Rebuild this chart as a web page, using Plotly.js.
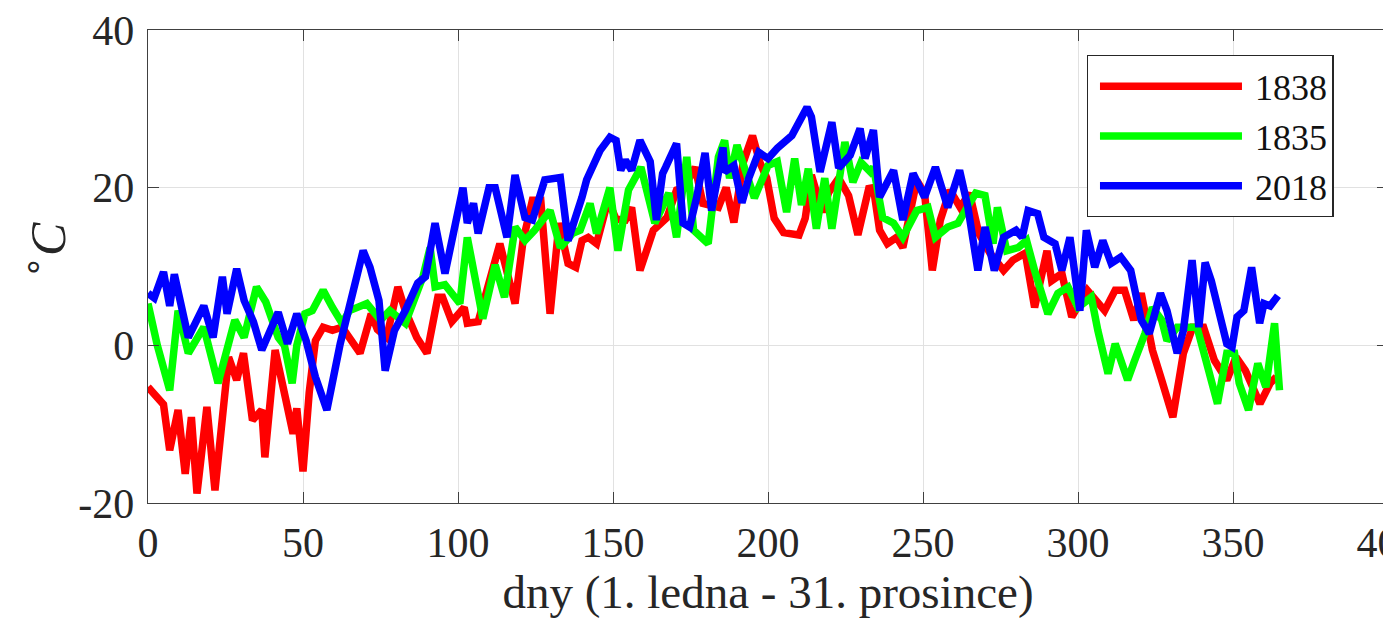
<!DOCTYPE html>
<html><head><meta charset="utf-8">
<script src="https://cdn.plot.ly/plotly-3.0.1.min.js"></script>
<style>html,body{margin:0;padding:0;overflow:hidden;background:#fff}#chart{width:1400px;height:619px}</style>
</head><body><div id="chart"></div><script>
const seriesNames = ['1838', '1835', '2018'];
const seriesColors = ['#ff0000', '#00ff00', '#0000ff'];

const days1838 = [0,3,5,7,9.7,12,14,15.8,19,21.6,24,26,28.6,30.8,33.7,36.7,37.7,41,44.3,46.8,48,50,52,54,56.5,59.5,62.6,65,68.4,72,74,77,80.6,83,86.7,90,93.5,95,98,102,103,106.5,110,113.5,116,118.4,121,124,126.7,129.7,132.6,135.5,138,140,142,144.7,148.4,151,154,156,158.7,163,167.4,170.5,173,176.5,179,184,186.5,189,192,195,197.4,199.6,202,205,210,212,214,217.5,219.6,222.8,226,229,232.5,234,236,238.5,241.5,243.5,248,250.5,253,255.6,258.7,262,265,268,271.6,276,279,283,286,290,291.5,294.8,298,303,308.6,312,315,318,320.4,324,327,330.6,334,337,340.5,344,348,351,354,358.7,362,364];
const temps1838 = [-5.3,-6.6,-7.5,-13.3,-8.2,-16.3,-9.1,-18.8,-7.8,-18.4,-8,-1.5,-4.4,-1,-9.5,-8.2,-14.2,-0.6,-6.6,-11.2,-8,-16,-6,0.6,2.3,1.9,2.3,1,-1,4,2,1,7.4,4.4,1,-1,6.1,6.1,3,4.8,2.8,3,8,12.9,9,5.3,13.3,18.4,18.4,4,15.5,10.4,9.9,13.3,13.7,12.9,18.4,16,15.9,17.5,9.5,14.6,16.2,19.7,20,22.6,18,17.5,20,15.6,23.2,26.6,23.2,21.2,16.1,14.3,14,16.1,21.6,16.9,19.4,21.2,19,14,19.9,20,14.6,12.9,13.7,12.4,20.9,19.3,9.5,15.9,19.7,17.5,19.3,14.2,11.7,9.5,10.8,11.7,4.8,12,8.2,9.1,3.6,7,4.4,7,7,3.2,6.6,-0.6,-4.4,-9.1,-1,2.3,2.3,-1.9,-4.4,-1.5,-3.2,-7.4,-4.8,-4];

const days1835 = [0,3,7,9.7,13,18,22.6,28,31,35,38,42,44,46.5,48,50.6,53,56.5,59.5,62.6,65,70.6,75,78,83,86,88.7,91,92.6,95.8,100.6,103,108,112,115,118.4,121.6,124.7,129.7,133,137,139.4,142.6,144.7,149,151.6,155,159,163.5,168,170.5,173.8,176,180.7,184,186,187.6,190,193,195.6,200,203,206,208.6,210.8,213,215.6,218.3,220.6,224.8,227.4,230,233,234,237,240.5,243.5,248,251.6,254,258,261.3,265,267,270,272.6,274,277,280.7,283.4,286,290.3,293.5,296.8,300,304.3,306.4,309.7,312,316,318.3,321.6,324,327,328.7,332,335,338.4,341,345,348,350.5,352,355,358,360.6,363.4,365];
const temps1835 = [5.3,0,-5.7,4.4,-1,2.3,-4.8,3.2,1,7.4,5.5,1,0,-4.8,0,4,4.4,7,4.8,2.8,4.4,5.3,3.2,4.4,2.8,6,8.7,12.4,7.4,7.7,5.3,13.7,3.4,10.2,6.1,15,13.3,14.6,17.1,12.4,14.2,14.6,18,14.2,20,12,19.7,22.6,15.5,19.3,13.7,23.9,14.6,12.9,23.9,26,21.2,25.4,21.6,18.7,22.8,23.3,16.9,23.7,17.8,22.4,14.8,21.2,14.8,25.8,20.7,23.2,22,22.6,16.2,15.5,13.7,17.1,17.5,13.7,15,15.5,18,19.3,19,12.9,17.5,12,12.4,13.3,9.5,4,6.6,7.4,4.8,6.1,1.9,-3.6,0.2,-4.4,-1.9,1.5,4.8,3.2,0.6,2.3,2.3,2.3,-1.5,-7.4,-1,-1,-4.8,-8.2,-2.3,-5.3,2.8,-5.7];

const days2018 = [0,2,5,7,8.5,11,13,18,21,24,25.5,28.6,31,34,36.7,42,45,48,51,54,57.7,62,65.8,69.4,71.6,74.5,76.5,79.5,83,87,89.5,92.6,95.8,101.6,103,105,106.5,110,112,115.8,118.4,121.6,124,128,133,135.5,140,141.5,145.8,149,151,152.5,154,156,158.7,160.8,162,164,166,167,170.5,172.6,174.7,177,179.7,181.8,185.5,186,189,191.6,193.8,197,200,203,207.7,212.6,214,216.8,220.6,222.8,226.5,229.7,231.3,234,236,240.5,243.5,246.8,250.5,254,258,261.8,264.5,267.7,270,273,276,280,282,283.9,287,289,292.6,294.8,297.4,300.6,302.7,305.4,308,310.7,313.8,317,320.4,323,326.6,328.7,332,334,336.8,339,341,343,345.8,348,349.7,351.3,353.5,356,358.6,360,362,364.5];
const temps2018 = [6.6,6,9.3,5,9,5,1,5,1,8.7,4,9.7,5.7,3,-0.6,4.2,0.2,4,0.6,-4,-8.2,0.2,6.1,12,9.9,5.7,-3.2,1.9,4.4,7.9,8.7,15.5,9.1,20,15.5,18,14.2,20,20,13.7,21.6,16.2,15.9,21,21.3,13.3,18.8,21,24.7,26.4,26,22.2,23.5,22.2,26,23.9,23.3,15.9,21.8,22.6,25.6,15.5,15,18.8,24.4,17.1,25.1,22,22.8,18.1,21.2,24.5,23.7,25,26.6,30.2,29,22,28.3,22.5,24.1,27.5,23.7,27.3,18.8,22.2,15.9,21.8,18.8,22.6,17.5,22.2,17.5,9.5,15,9.5,13.7,14.6,13.7,17.1,16.7,13.7,12.9,9.5,13.7,4.4,14.6,9.9,13.3,10.4,11.2,9.5,3.2,1.5,6.6,4.4,-1,1.9,10.8,2.3,10.5,8.2,3.6,0.2,-0.2,3.6,4.4,9.9,2.8,5.3,5,6.3];

const xTickVals = [0,50,100,150,200,250,300,350,400];
const yTickVals = [-20,0,20,40];
const xTitle = 'dny (1. ledna - 31. prosince)';
const yTitle = '<sup>∘</sup><i>C</i>';

const allDays = [days1838, days1835, days2018];
const allTemps = [temps1838, temps1835, temps2018];

const traces = seriesNames.map((name, i) => ({
  type: 'scatter', mode: 'lines', name: name,
  x: allDays[i], y: allTemps[i],
  line: {color: seriesColors[i], width: 7.5, shape: 'linear'},
  legendgroup: 'g' + i
}));

const FONT = 'Liberation Serif, Times New Roman, serif';
const axisCommon = {
  showline: true, mirror: 'ticks', linecolor: '#404040', linewidth: 1.3,
  ticks: 'inside', ticklen: 11, tickcolor: '#404040', tickwidth: 1,
  showgrid: true, gridcolor: '#e1e1e1', gridwidth: 1, zeroline: false,
  ticklabeloverflow: 'allow',
  tickfont: {family: FONT, size: 42, color: '#262626'}
};

const layout = {
  width: 1400, height: 619,
  margin: {l: 148, r: 12, t: 30, b: 116},
  paper_bgcolor: '#ffffff', plot_bgcolor: '#ffffff',
  showlegend: true,
  xaxis: Object.assign({}, axisCommon, {
    range: [0, 400], tickvals: xTickVals, ticktext: xTickVals.map(String),
    ticklabelstandoff: 2,
    title: {text: xTitle, font: {family: FONT, size: 47, color: '#262626'}, standoff: 9}
  }),
  yaxis: Object.assign({}, axisCommon, {
    range: [-20, 40], tickvals: yTickVals, ticktext: yTickVals.map(String),
    ticklabelstandoff: 4
  }),
  annotations: [{
    text: yTitle, xref: 'paper', yref: 'paper',
    x: -0.083, y: 0.535, xanchor: 'center', yanchor: 'middle',
    textangle: -90, showarrow: false,
    font: {family: FONT, size: 50, color: '#262626'}
  }],
  legend: {
    x: 0.757, xanchor: 'left', y: 0.947, yanchor: 'top',
    bgcolor: '#ffffff', bordercolor: '#262626', borderwidth: 1.3,
    font: {family: FONT, size: 36, color: '#111111'},
    itemwidth: 157, tracegroupgap: 0, traceorder: 'grouped'
  }
};

Plotly.newPlot('chart', traces, layout, {staticPlot: true, displayModeBar: false}).then(() => {
  document.querySelectorAll('.legendlines path').forEach(p => p.setAttribute('d', 'M12,0h142'));
});
</script></body></html>
